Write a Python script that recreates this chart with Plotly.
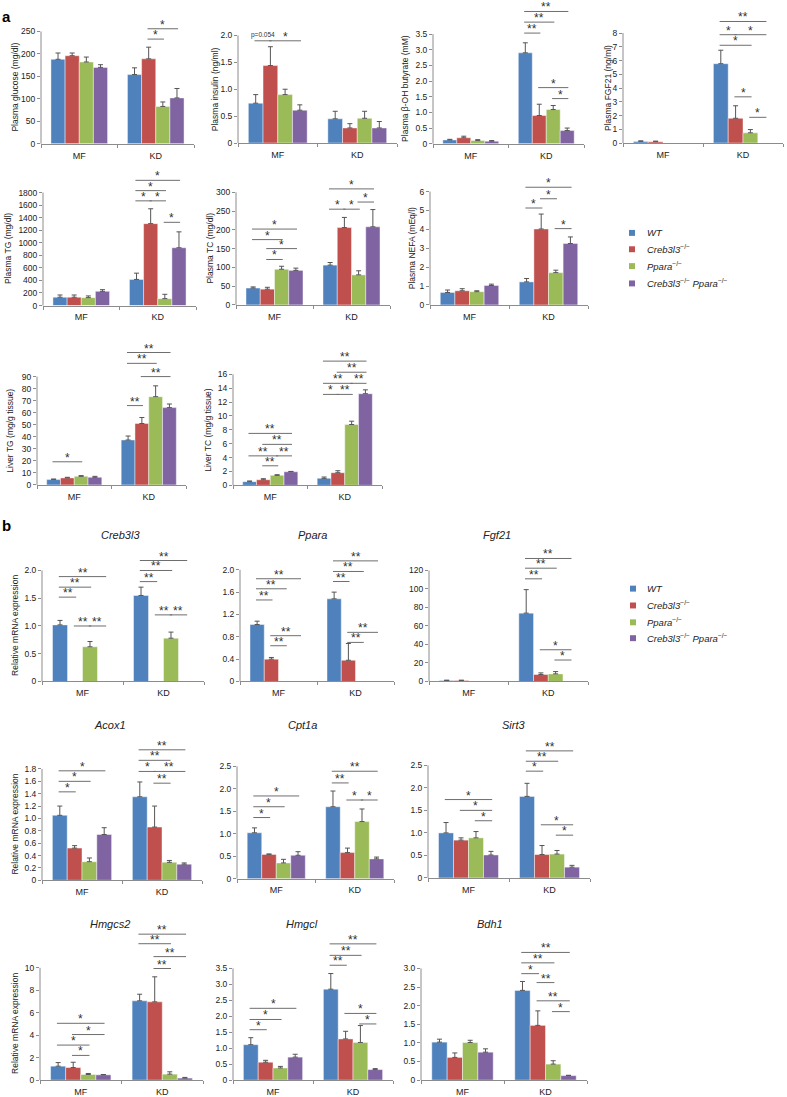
import plotly.graph_objects as go

FIG_W, FIG_H = 787, 1097
FONT = "Liberation Sans, Arial, sans-serif"
GROUPS = ["MF", "KD"]
GENOTYPE_LABELS = ["<i>WT</i>",
                   "<i>Creb3l3</i><sup>−/−</sup>",
                   "<i>Ppara</i><sup>−/−</sup>",
                   "<i>Creb3l3</i><sup>−/−</sup> <i>Ppara</i><sup>−/−</sup>"]
COLORS = ["#4F81BD", "#C0504D", "#9BBB59", "#8064A2"]

# ---------------- data: mean[genotype] = [MF, KD], err likewise ----------------
# significance: (group, bar_a, bar_b, y, label)
glucose_mean = [[188, 154], [196, 189], [182, 83], [170, 102]]
glucose_err = [[14, 15], [6, 26], [11, 10], [6, 21]]
glucose_ticks = ["0", "50", "100", "150", "200", "250"]
glucose_sig = [(1, 1, 2, 233, "*"), (1, 1, 3, 256, "*")]

insulin_mean = [[0.74, 0.45], [1.44, 0.28], [0.90, 0.46], [0.61, 0.28]]
insulin_err = [[0.16, 0.14], [0.35, 0.08], [0.10, 0.13], [0.10, 0.12]]
insulin_ticks = ["0", "0.5", "1.0", "1.5", "2.0"]
insulin_sig = [(0, 0, 1, 1.90, "p=0.054"), (0, 1, 3, 1.90, "*")]

bhb_mean = [[0.12, 2.90], [0.19, 0.90], [0.10, 1.09], [0.08, 0.42]]
bhb_err = [[0.02, 0.32], [0.05, 0.36], [0.03, 0.13], [0.02, 0.08]]
bhb_ticks = ["0", "0.5", "1.0", "1.5", "2.0", "2.5", "3.0", "3.5"]
bhb_sig = [(1, 0, 1, 3.53, "**"), (1, 0, 2, 3.88, "**"), (1, 0, 3, 4.22, "**"),
           (1, 1, 3, 1.79, "*"), (1, 2, 3, 1.44, "*")]

fgf21p_mean = [[0.12, 5.77], [0.10, 1.80], [None, 0.74], [None, None]]
fgf21p_err = [[0.04, 0.98], [0.04, 0.91], [0, 0.24], [0, 0]]
fgf21p_ticks = ["0", "1", "2", "3", "4", "5", "6", "7", "8"]
fgf21p_sig = [(1, 0, 2, 7.11, "*"), (1, 0, 1, 7.88, "*"), (1, 1, 3, 7.88, "*"),
              (1, 0, 3, 8.84, "**"), (1, 1, 2, 3.36, "*"), (1, 2, 3, 1.87, "*")]

tg_mean = [[132, 416], [132, 1305], [126, 110], [226, 921]]
tg_err = [[36, 100], [36, 237], [27, 69], [27, 253]]
tg_ticks = ["0", "200", "400", "600", "800", "1000", "1200", "1400", "1600", "1800"]
tg_sig = [(1, 0, 1, 1668, "*"), (1, 1, 2, 1668, "*"), (1, 0, 2, 1831, "*"),
          (1, 0, 3, 1995, "*"), (1, 2, 3, 1326, "*")]

tc_mean = [[45, 106], [42, 206], [95, 80], [92, 208]]
tc_err = [[3, 7], [5, 27], [8, 11], [6, 46]]
tc_ticks = ["0", "50", "100", "150", "200", "250", "300"]
tc_sig = [(0, 1, 2, 121, "*"), (0, 1, 3, 150, "*"), (0, 0, 2, 174, "*"), (0, 0, 3, 202, "*"),
          (1, 0, 1, 255, "*"), (1, 1, 2, 255, "*"), (1, 2, 3, 274, "*"), (1, 0, 3, 309, "*")]

nefa_mean = [[0.66, 1.22], [0.75, 4.02], [0.70, 1.71], [1.03, 3.25]]
nefa_err = [[0.13, 0.18], [0.11, 0.79], [0.05, 0.13], [0.07, 0.35]]
nefa_ticks = ["0", "1", "2", "3", "4", "5", "6"]
nefa_sig = [(1, 0, 1, 5.13, "*"), (1, 1, 2, 5.62, "*"), (1, 0, 3, 6.23, "*"), (1, 2, 3, 4.04, "*")]

ltg_mean = [[4.4, 37.3], [5.8, 51.0], [7.1, 73.3], [6.3, 64.2]]
ltg_err = [[0.5, 3.3], [0.5, 5.0], [0.6, 9.0], [0.8, 3.0]]
ltg_ticks = ["0", "10", "20", "30", "40", "50", "60", "70", "80", "90"]
ltg_sig = [(0, 0, 2, 19.2, "*"), (1, 0, 1, 65.9, "**"), (1, 1, 3, 90.0, "**"),
           (1, 0, 2, 101, "**"), (1, 0, 3, 110, "**")]

ltc_mean = [[0.52, 1.0], [0.8, 1.81], [1.43, 8.76], [1.95, 13.2]]
ltc_err = [[0.1, 0.19], [0.15, 0.29], [0.09, 0.48], [0.05, 0.56]]
ltc_ticks = ["0", "2", "4", "6", "8", "10", "12", "14", "16"]
ltc_sig = [(0, 1, 2, 2.81, "**"), (0, 0, 2, 4.24, "**"), (0, 2, 3, 4.24, "**"),
           (0, 1, 3, 5.9, "**"), (0, 0, 3, 7.48, "**"),
           (1, 0, 1, 13.1, "*"), (1, 1, 2, 13.1, "**"), (1, 0, 2, 14.7, "**"),
           (1, 2, 3, 14.7, "**"), (1, 1, 3, 16.3, "**"), (1, 0, 3, 17.9, "**")]

creb_mean = [[1.02, 1.55], [None, None], [0.625, 0.78], [None, None]]
creb_err = [[0.08, 0.15], [0, 0], [0.095, 0.11], [0, 0]]
creb_ticks = ["0", "0.5", "1.0", "1.5", "2.0"]
creb_sig = [(0, 0, 1, 1.52, "**"), (0, 0, 2, 1.70, "**"), (0, 0, 3, 1.89, "**"),
            (0, 1, 2, 1.0, "**"), (0, 2, 3, 1.0, "**"),
            (1, 0, 1, 1.80, "**"), (1, 0, 2, 2.0, "**"), (1, 0, 3, 2.18, "**"),
            (1, 1, 2, 1.20, "**"), (1, 2, 3, 1.20, "**")]

ppara_mean = [[1.02, 1.48], [0.40, 0.38], [None, None], [None, None]]
ppara_err = [[0.06, 0.12], [0.03, 0.30], [0, 0], [0, 0]]
ppara_ticks = ["0", "0.4", "0.8", "1.2", "1.6", "2.0"]
ppara_sig = [(0, 0, 1, 1.46, "**"), (0, 0, 2, 1.66, "**"), (0, 0, 3, 1.84, "**"),
             (0, 1, 2, 0.64, "**"), (0, 1, 3, 0.82, "**"),
             (1, 0, 1, 1.79, "**"), (1, 0, 2, 1.97, "**"), (1, 0, 3, 2.16, "**"),
             (1, 1, 2, 0.70, "**"), (1, 1, 3, 0.88, "**")]

fgf21_mean = [[1.1, 73.9], [1.1, 7.5], [None, 8.2], [None, None]]
fgf21_err = [[0.3, 25.4], [0.3, 1.8], [0, 2.5], [0, 0]]
fgf21_ticks = ["0", "20", "40", "60", "80", "100", "120"]
fgf21_sig = [(1, 0, 1, 111, "**"), (1, 0, 2, 122.5, "**"), (1, 0, 3, 133, "**"),
             (1, 1, 3, 34.3, "*"), (1, 2, 3, 23.2, "*")]

acox_mean = [[1.05, 1.35], [0.52, 0.86], [0.30, 0.29], [0.74, 0.26]]
acox_err = [[0.15, 0.24], [0.04, 0.34], [0.06, 0.03], [0.11, 0.02]]
acox_ticks = ["0", "0.2", "0.4", "0.6", "0.8", "1.0", "1.2", "1.4", "1.6", "1.8"]
acox_sig = [(0, 0, 1, 1.43, "*"), (0, 0, 2, 1.60, "*"), (0, 0, 3, 1.77, "*"),
            (1, 0, 1, 1.76, "*"), (1, 1, 3, 1.76, "**"), (1, 1, 2, 1.57, "**"),
            (1, 0, 2, 1.94, "**"), (1, 0, 3, 2.11, "**")]

cpt_mean = [[1.02, 1.60], [0.54, 0.58], [0.35, 1.27], [0.52, 0.44]]
cpt_err = [[0.11, 0.35], [0.01, 0.10], [0.08, 0.28], [0.08, 0.04]]
cpt_ticks = ["0", "0.5", "1.0", "1.5", "2.0", "2.5"]
cpt_sig = [(0, 0, 1, 1.36, "*"), (0, 0, 2, 1.60, "*"), (0, 0, 3, 1.84, "*"),
           (1, 0, 1, 2.13, "**"), (1, 0, 3, 2.39, "**"), (1, 1, 2, 1.75, "*"), (1, 2, 3, 1.75, "*")]

sirt_mean = [[1.0, 1.81], [0.84, 0.52], [0.89, 0.53], [0.51, 0.24]]
sirt_err = [[0.23, 0.29], [0.05, 0.20], [0.14, 0.08], [0.08, 0.04]]
sirt_ticks = ["0", "0.5", "1.0", "1.5", "2.0", "2.5"]
sirt_sig = [(0, 0, 3, 1.74, "*"), (0, 1, 3, 1.50, "*"), (0, 2, 3, 1.27, "*"),
            (1, 0, 1, 2.37, "*"), (1, 0, 2, 2.59, "**"), (1, 0, 3, 2.82, "**"),
            (1, 1, 3, 1.18, "*"), (1, 2, 3, 0.95, "*")]

hmgcs_mean = [[1.24, 7.06], [1.12, 6.97], [0.50, 0.53], [0.47, 0.18]]
hmgcs_err = [[0.32, 0.59], [0.47, 2.23], [0.09, 0.21], [0.03, 0.06]]
hmgcs_ticks = ["0", "2", "4", "6", "8", "10"]
hmgcs_sig = [(0, 1, 2, 2.2, "*"), (0, 0, 2, 3.12, "*"), (0, 1, 3, 4.06, "*"), (0, 0, 3, 5.06, "*"),
             (1, 1, 2, 9.94, "**"), (1, 1, 3, 11.0, "**"), (1, 0, 2, 12.15, "**"), (1, 0, 3, 13.0, "**")]

hmgcl_mean = [[1.11, 2.85], [0.56, 1.29], [0.38, 1.18], [0.72, 0.33]]
hmgcl_err = [[0.22, 0.49], [0.06, 0.24], [0.05, 0.53], [0.09, 0.03]]
hmgcl_ticks = ["0", "0.5", "1.0", "1.5", "2.0", "2.5", "3.0", "3.5"]
hmgcl_sig = [(0, 0, 1, 1.58, "*"), (0, 0, 2, 1.90, "*"), (0, 0, 3, 2.25, "*"),
             (1, 0, 1, 3.60, "**"), (1, 0, 2, 3.91, "**"), (1, 0, 3, 4.27, "**"),
             (1, 1, 3, 2.09, "*"), (1, 2, 3, 1.76, "*")]

bdh_mean = [[1.02, 2.41], [0.61, 1.47], [1.01, 0.43], [0.75, 0.12]]
bdh_err = [[0.08, 0.24], [0.12, 0.39], [0.06, 0.09], [0.09, 0.01]]
bdh_ticks = ["0", "0.5", "1.0", "1.5", "2.0", "2.5", "3.0"]
bdh_sig = [(1, 0, 1, 2.86, "*"), (1, 0, 2, 3.15, "**"), (1, 0, 3, 3.43, "**"),
           (1, 1, 2, 2.62, "**"), (1, 1, 3, 2.13, "**"), (1, 2, 3, 1.84, "*")]

# ---------------- layout geometry (pixels): left, right, y of 0, y of top tick ----------------
PANELS = [
    (glucose_mean, glucose_err, glucose_ticks, glucose_sig, "Plasma glucose (mg/dl)", 15, (41, 194, 140, 26.7)),
    (insulin_mean, insulin_err, insulin_ticks, insulin_sig, "Plasma insulin (ng/ml)", 215, (238, 397, 139.3, 30.7)),
    (bhb_mean, bhb_err, bhb_ticks, bhb_sig, "Plasma β-OH butyrate (mM)", 405, (433, 584, 140, 29.3)),
    (fgf21p_mean, fgf21p_err, fgf21p_ticks, fgf21p_sig, "Plasma FGF21 (ng/ml)", 608, (623, 783, 139.3, 28.3)),
    (tg_mean, tg_err, tg_ticks, tg_sig, "Plasma TG (mg/dl)", 8, (43, 196, 303.3, 189.3)),
    (tc_mean, tc_err, tc_ticks, tc_sig, "Plasma TC (mg/dl)", 210, (236, 390, 302.7, 189)),
    (nefa_mean, nefa_err, nefa_ticks, nefa_sig, "Plasma NEFA (mEq/l)", 412, (430, 588, 302.7, 188.3)),
    (ltg_mean, ltg_err, ltg_ticks, ltg_sig, "Liver TG (mg/g tissue)", 10, (37, 186, 484.3, 375)),
    (ltc_mean, ltc_err, ltc_ticks, ltc_sig, "Liver TC (mg/g tissue)", 208, (233, 382, 484.7, 372.7)),
    (creb_mean, creb_err, creb_ticks, creb_sig, "Relative mRNA expression", 15, (42, 204, 682.7, 570.7)),
    (ppara_mean, ppara_err, ppara_ticks, ppara_sig, None, 0, (240, 394, 682.7, 570)),
    (fgf21_mean, fgf21_err, fgf21_ticks, fgf21_sig, None, 0, (429, 588, 682.7, 570.7)),
    (acox_mean, acox_err, acox_ticks, acox_sig, "Relative mRNA expression", 15, (42, 202, 883.3, 771)),
    (cpt_mean, cpt_err, cpt_ticks, cpt_sig, None, 0, (237, 394, 881.7, 768.3)),
    (sirt_mean, sirt_err, sirt_ticks, sirt_sig, None, 0, (428, 590, 881, 767.3)),
    (hmgcs_mean, hmgcs_err, hmgcs_ticks, hmgcs_sig, "Relative mRNA expression", 15, (40, 203, 1085, 971.7)),
    (hmgcl_mean, hmgcl_err, hmgcl_ticks, hmgcl_sig, None, 0, (233, 393, 1085, 972.3)),
    (bdh_mean, bdh_err, bdh_ticks, bdh_sig, None, 0, (421, 587, 1085, 972.3)),
]

GENE_TITLES = [("Creb3l3", 120, 535), ("Ppara", 312, 535), ("Fgf21", 497, 535),
               ("Acox1", 110, 727), ("Cpt1a", 302, 727), ("Sirt3", 514, 727),
               ("Hmgcs2", 110, 927), ("Hmgcl", 302, 927), ("Bdh1", 490, 927)]

BAR_W = 0.185
AXIS_COLOR = "#8c8c8c"
TEXT_COLOR = "#222222"
SIG_COLOR = "#6e6e6e"


def px(x):
    return x / FIG_W


def py(y):
    return 1 - y / FIG_H


def bar_center(group, k):
    return group + (k - 1.5) * BAR_W


fig = go.Figure()
layout = dict(width=FIG_W, height=FIG_H, margin=dict(l=0, r=0, t=0, b=0),
              paper_bgcolor="white", plot_bgcolor="white", barmode="overlay",
              showlegend=False, font=dict(family=FONT, size=9, color=TEXT_COLOR))
shapes = []
annotations = []

for i, (mean, err, ticks, sig, ytitle, ytitle_x, geom) in enumerate(PANELS):
    n = i + 1
    xid = "x" if n == 1 else f"x{n}"
    yid = "y" if n == 1 else f"y{n}"
    xkey = "xaxis" if n == 1 else f"xaxis{n}"
    ykey = "yaxis" if n == 1 else f"yaxis{n}"
    left, right, y0, ytop = geom
    tickvals = [float(t) for t in ticks]
    tmax = tickvals[-1]
    max_sig = max([s[3] for s in sig] + [0])
    rtop = max(tmax, max_sig * 1.025)
    top_px = y0 - (y0 - ytop) * rtop / tmax

    for k in range(4):
        fig.add_trace(go.Bar(
            x=[0, 1], y=mean[k], width=BAR_W, offset=(k - 2) * BAR_W,
            marker=dict(color=COLORS[k], line=dict(color="rgba(255,255,255,0.55)", width=0.8)),
            error_y=dict(type="data", symmetric=False, array=err[k], arrayminus=[0, 0],
                         color="#555555", thickness=1, width=2.5),
            xaxis=xid, yaxis=yid, hoverinfo="skip"))

    layout[xkey] = dict(domain=[px(left), px(right)], anchor=yid, range=[-0.5, 1.5],
                        tickmode="array", tickvals=[0, 1], ticktext=GROUPS, ticks="",
                        showline=True, linecolor=AXIS_COLOR, linewidth=1,
                        showgrid=False, zeroline=False, fixedrange=True,
                        tickfont=dict(size=9, family=FONT, color=TEXT_COLOR),
                        ticklabelstandoff=3,
                        minor=dict(tickmode="array", tickvals=[-0.5, 0.5, 1.5], ticks="outside",
                                   ticklen=3, tickcolor=AXIS_COLOR, tickwidth=1, showgrid=False))
    layout[ykey] = dict(domain=[py(y0), py(top_px)], anchor=xid, range=[0, rtop],
                        tickmode="array", tickvals=tickvals, ticktext=ticks,
                        ticks="outside", ticklen=3, tickcolor=AXIS_COLOR, tickwidth=1,
                        showline=False, showgrid=False, zeroline=False, fixedrange=True,
                        tickfont=dict(size=8.5, family=FONT, color=TEXT_COLOR))
    # y axis line only up to the top tick
    shapes.append(dict(type="line", xref="paper", yref="paper", x0=px(left), x1=px(left),
                       y0=py(y0), y1=py(ytop), line=dict(color=AXIS_COLOR, width=1)))
    if ytitle:
        annotations.append(dict(text=ytitle, xref="paper", yref="paper", x=px(ytitle_x),
                                y=py((y0 + ytop) / 2), textangle=-90, showarrow=False,
                                xanchor="center", yanchor="middle",
                                font=dict(size=8.5, family=FONT, color=TEXT_COLOR)))
    # significance brackets
    for (g, a, b, yv, lab) in sig:
        xa = bar_center(g, a) - 0.08 * BAR_W
        xb = bar_center(g, b) + 0.08 * BAR_W
        shapes.append(dict(type="line", xref=xid, yref=yid, x0=xa, x1=xb, y0=yv, y1=yv,
                           line=dict(color=SIG_COLOR, width=1)))
        small = lab.startswith("p")
        annotations.append(dict(text=lab, xref=xid, yref=yid, x=(xa + xb) / 2, y=yv,
                                showarrow=False, xanchor="center", yanchor="bottom",
                                yshift=0 if small else -5,
                                font=dict(size=6.5 if small else 12, family=FONT, color="#303030")))

# panel letters
annotations.append(dict(text="<b>a</b>", xref="paper", yref="paper", x=px(0), y=py(1),
                        xanchor="left", yanchor="top", showarrow=False,
                        font=dict(size=15, family=FONT, color="black")))
annotations.append(dict(text="<b>b</b>", xref="paper", yref="paper", x=px(0), y=py(515),
                        xanchor="left", yanchor="top", showarrow=False,
                        font=dict(size=15, family=FONT, color="black")))

# gene titles
for (t, xc, yc) in GENE_TITLES:
    annotations.append(dict(text=f"<i>{t}</i>", xref="paper", yref="paper", x=px(xc), y=py(yc),
                            xanchor="center", yanchor="middle", showarrow=False,
                            font=dict(size=11, family=FONT, color=TEXT_COLOR)))

# legends (part a and part b)
LEGEND_ROWS = [(632, 645, [230, 246.5, 263.5, 281]), (633, 645, [589, 606, 623, 639])]
for (sq_x, tx, rows) in LEGEND_ROWS:
    for k, yy in enumerate(rows):
        shapes.append(dict(type="rect", xref="paper", yref="paper",
                           x0=px(sq_x - 3), x1=px(sq_x + 3), y0=py(yy + 3), y1=py(yy - 3),
                           fillcolor=COLORS[k], line=dict(width=0)))
        annotations.append(dict(text=GENOTYPE_LABELS[k], xref="paper", yref="paper",
                                x=px(tx), y=py(yy), xanchor="left", yanchor="middle",
                                showarrow=False, font=dict(size=9.5, family=FONT, color=TEXT_COLOR)))

layout["shapes"] = shapes
layout["annotations"] = annotations
fig.update_layout(**layout)
fig.write_html("out.html", config={"displayModeBar": False},
               post_script="document.body.style.margin='0';document.body.style.padding='0';")
